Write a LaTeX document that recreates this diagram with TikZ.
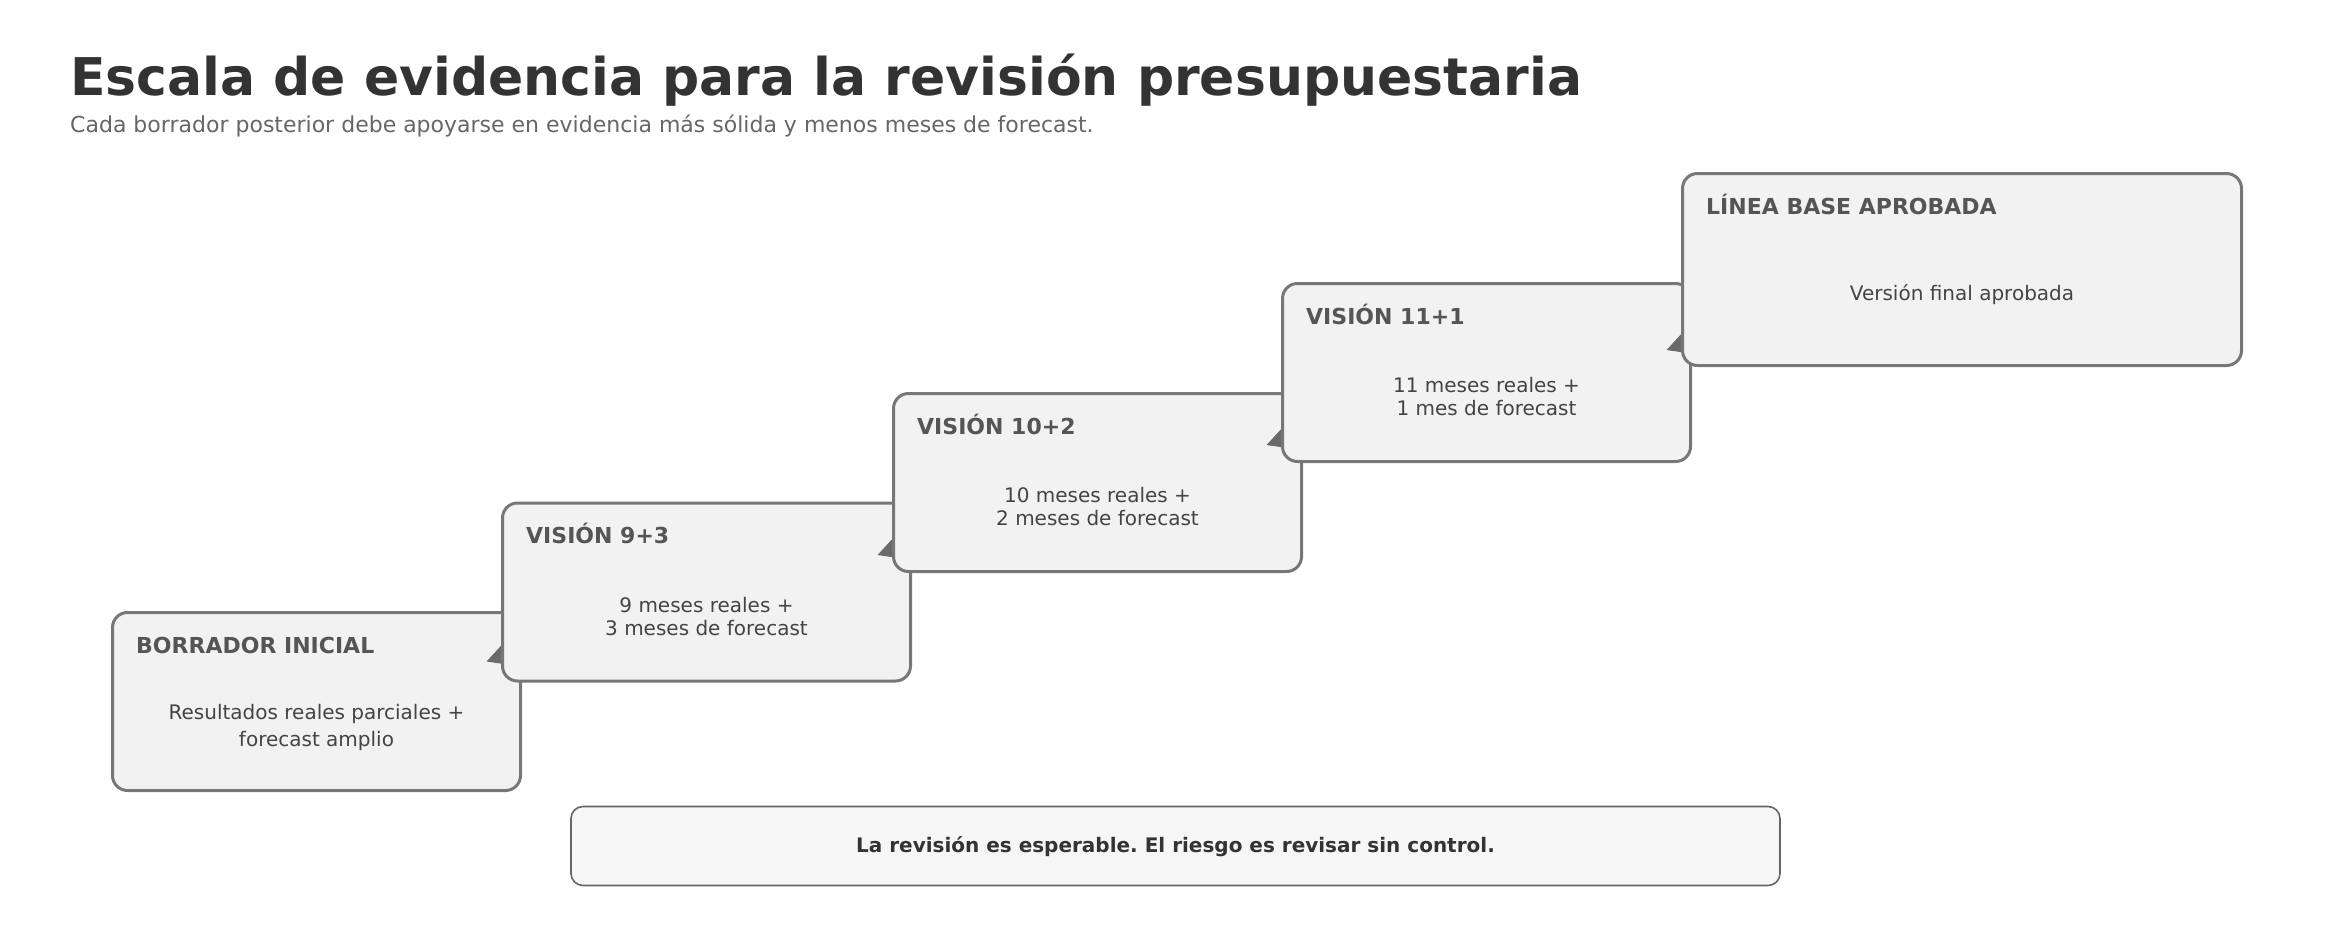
\documentclass[tikz,border=0pt]{standalone}
\usepackage{fontspec}
\setmainfont{DejaVu Sans}
\usetikzlibrary{arrows.meta,calc}
\definecolor{boxfill}{HTML}{F2F2F2}
\definecolor{boxdraw}{HTML}{777777}
\definecolor{headcol}{HTML}{555555}
\definecolor{bodycol}{HTML}{444444}
\definecolor{titlecol}{HTML}{333333}
\definecolor{subcol}{HTML}{666666}
\definecolor{notefill}{HTML}{F6F6F6}
\definecolor{notedraw}{HTML}{666666}
\definecolor{arrowcol}{HTML}{6A6A6A}
\newcommand{\bstrut}{\rule[-5pt]{0pt}{19pt}}
\newcommand{\nstrut}{\rule[-3pt]{0pt}{21pt}}
\frenchspacing
\begin{document}
\begin{tikzpicture}[x=1pt,y=-1pt,
  stepbox/.style={draw=boxdraw, fill=boxfill, line width=3pt, rounded corners=15pt,
    minimum width=408pt, minimum height=178pt, anchor=north west, inner sep=0pt},
  head/.style={anchor=base west, inner sep=0pt, text=headcol,
    font=\fontsize{22pt}{26pt}\selectfont\bfseries},
  body/.style={anchor=center, inner sep=0pt, align=center, text=bodycol,
    font=\fontsize{20pt}{23pt}\selectfont},
  bodywide/.style={body, font=\fontsize{20pt}{27pt}\selectfont},
  conn/.style={draw=arrowcol, fill=arrowcol, line width=1pt,
    -{Triangle[length=24pt,width=25pt]}},
  notebox/.style={draw=notedraw, fill=notefill, line width=1.6pt, rounded corners=12pt,
    minimum width=1209pt, minimum height=79pt, inner sep=0pt, text=titlecol,
    font=\fontsize{20pt}{24pt}\selectfont\bfseries}
]
\useasboundingbox (0,0) rectangle (2350,930);

% title
\node[anchor=base west, inner sep=0pt, text=titlecol,
  font=\fontsize{52pt}{62pt}\selectfont\bfseries] (title) at (70,95)
  {Escala de evidencia para la revisión presupuestaria};
\node[anchor=base west, inner sep=0pt, text=subcol,
  font=\fontsize{22pt}{26pt}\selectfont] (subtitle) at (70,132.5)
  {Cada borrador posterior debe apoyarse en evidencia más sólida y menos meses de forecast.};

% step 1
\node[stepbox] (b1) at (111,611) {};
\node[head] (h1) at ($(b1.north west)+(25,42)$) {BORRADOR INICIAL};
\node[bodywide] (t1) at ($(b1.north)!0.5!(b1.south)+(0,26.5)$)
  {\bstrut Resultados reales parciales +\\\bstrut forecast amplio};
\coordinate (s12) at ($(b1.north west)+(390+23.2,68.5-31.4)$);
\coordinate (e12) at ($(b1.north west)+(390-14.5,68.5-18)$);
\draw[conn] (s12) -- (e12);

% step 2
\node[stepbox] (b2) at (501,501.5) {};
\node[head] (h2) at ($(b2.north west)+(25,42)$) {VISIÓN 9+3};
\node[body] (t2) at ($(b2.north)!0.5!(b2.south)+(0,26.5)$)
  {\bstrut 9 meses reales +\\\bstrut 3 meses de forecast};
\coordinate (s23) at ($(b2.south west)+(391+23.2,-31.4-109.5)$);
\coordinate (e23) at ($(b2.south west)+(391-14.5,-18-109.5)$);
\draw[conn] (s23) -- (e23);

% step 3
\node[stepbox] (b3) at (892,392) {};
\node[head] (h3) at ($(b3.north west)+(25,42)$) {VISIÓN 10+2};
\node[body] (t3) at ($(b3.north)!0.5!(b3.south)+(0,26.5)$)
  {\bstrut 10 meses reales +\\\bstrut 2 meses de forecast};
\coordinate (s34) at ($(b3.south west)+(389+23.2,-31.4-110)$);
\coordinate (e34) at ($(b3.south west)+(389-14.5,-18-110)$);
\draw[conn] (s34) -- (e34);

% step 4
\node[stepbox] (b4) at (1281,282) {};
\node[head] (h4) at ($(b4.north west)+(25,42)$) {VISIÓN 11+1};
\node[body] (t4) at ($(b4.north)!0.5!(b4.south)+(0,26.5)$)
  {\bstrut 11 meses reales +\\\bstrut 1 mes de forecast};
\coordinate (s45) at ($(b4.south west)+(400+23.2,-31.4-95)$);
\coordinate (e45) at ($(b4.south west)+(400-14.5,-18-95)$);
\draw[conn] (s45) -- (e45);

% step 5
\node[stepbox, minimum width=559pt, minimum height=192pt] (b5) at (1681,172) {};
\node[head] (h5) at ($(b5.north west)+(25,42)$) {LÍNEA BASE APROBADA};
\node[body] (t5) at ($(b5.north)!0.5!(b5.south)+(0,25.5)$)
  {\bstrut Versión final aprobada};

% note
\node[notebox] (note) at (1175.5,846)
  {\nstrut La revisión es esperable. El riesgo es revisar sin control.};
\end{tikzpicture}
\end{document}
